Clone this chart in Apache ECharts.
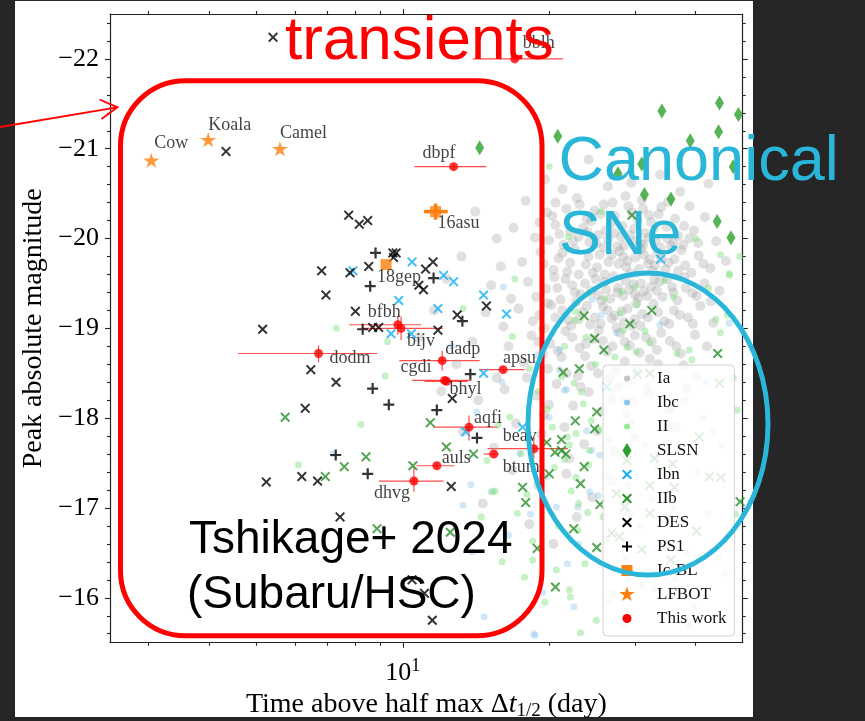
<!DOCTYPE html>
<html><head><meta charset="utf-8">
<script src="https://cdn.jsdelivr.net/npm/echarts@6/dist/echarts.min.js"></script>
<style>
html,body{margin:0;padding:0;background:#262626;width:865px;height:721px;overflow:hidden}
#panel{position:absolute;left:15px;top:1px;width:738px;height:716px;background:#fff}
#chart{position:absolute;left:0;top:0;width:865px;height:721px}
</style></head><body><div id="panel"></div><div id="chart"></div>
<script>
// ---------- data ----------
const yMajorTicks = [-22, -21, -20, -19, -18, -17, -16];
const yMinorTicks = [-22.4,-22.2,-21.8,-21.6,-21.4,-21.2,-20.8,-20.6,-20.4,-20.2,-19.8,-19.6,-19.4,-19.2,-18.8,-18.6,-18.4,-18.2,-17.8,-17.6,-17.4,-17.2,-16.8,-16.6,-16.4,-16.2,-15.8,-15.6];
const xMajorTicks = [10];
const xMinorTicks = [3,4,5,6,7,8,9,20,30,40];

const typeIa = [
[24.1,-20.88],[29.5,-20.62],[21.3,-20.55],[33.8,-20.71],[19.6,-20.66],[37.2,-20.52],[26.4,-20.58],[42.5,-20.61],
[22.8,-20.45],[25.9,-20.38],[28.7,-20.47],[31.2,-20.33],[35.1,-20.41],[19.8,-20.29],[23.9,-20.22],[27.3,-20.25],[30.4,-20.21],[33.6,-20.27],[38.9,-20.36],[17.9,-20.42],[41.8,-20.24],[24.8,-20.31],[29.1,-20.36],
[20.6,-20.15],[22.1,-20.08],[23.5,-20.12],[25.2,-20.04],[26.8,-20.17],[28.1,-20.02],[29.9,-20.11],[31.5,-20.06],[33.1,-19.98],[34.9,-20.13],[36.8,-20.03],[39.7,-20.09],[18.7,-20.01],[21.4,-19.93],[24.2,-19.96],[27.6,-19.91],[30.8,-19.95],[35.6,-19.92],[16.9,-20.12],[44.1,-19.97],[26.1,-20.09],[32.4,-20.18],
[19.2,-19.85],[20.9,-19.78],[22.6,-19.88],[23.8,-19.71],[25.4,-19.82],[26.5,-19.74],[27.9,-19.86],[28.8,-19.68],[30.1,-19.79],[31.9,-19.72],[33.4,-19.84],[34.7,-19.66],[36.2,-19.77],[38.1,-19.70],[40.6,-19.81],[17.6,-19.74],[15.9,-19.69],[21.8,-19.63],[24.6,-19.62],[29.4,-19.61],[32.6,-19.64],[37.4,-19.87],[42.9,-19.67],[46.2,-19.75],[25.9,-19.90],[30.9,-19.88],
[18.1,-19.52],[19.7,-19.44],[20.5,-19.57],[22.3,-19.48],[23.2,-19.38],[24.9,-19.55],[26.2,-19.43],[27.1,-19.58],[28.4,-19.36],[29.8,-19.49],[31.3,-19.41],[32.9,-19.54],[34.2,-19.35],[35.8,-19.46],[37.9,-19.57],[39.4,-19.39],[41.7,-19.50],[16.7,-19.33],[21.1,-19.32],[25.6,-19.31],[30.5,-19.34],[36.7,-19.31],[44.8,-19.42],[15.2,-19.48],[27.7,-19.45],[33.7,-19.52],
[17.3,-19.22],[19.1,-19.15],[20.2,-19.26],[21.9,-19.09],[23.4,-19.18],[24.3,-19.04],[25.8,-19.24],[26.9,-19.11],[28.2,-19.19],[29.6,-19.03],[31.1,-19.16],[32.8,-19.27],[34.5,-19.08],[36.1,-19.20],[38.6,-19.12],[40.9,-19.25],[43.5,-19.06],[16.1,-19.02],[22.7,-19.29],[27.5,-19.01],[30.2,-19.28],[14.8,-19.18],
[18.4,-18.92],[20.1,-18.83],[21.6,-18.97],[23.1,-18.78],[24.7,-18.88],[26.3,-18.74],[28.0,-18.95],[29.3,-18.81],[31.6,-18.90],[33.3,-18.76],[35.4,-18.86],[37.3,-18.72],[39.9,-18.93],[16.5,-18.80],[19.4,-18.71],[25.3,-18.98],[30.7,-18.73],[13.9,-18.85],[42.2,-18.80],
[17.7,-18.62],[19.9,-18.55],[21.2,-18.68],[22.9,-18.47],[24.4,-18.58],[26.6,-18.44],[28.6,-18.63],[30.3,-18.52],[32.2,-18.66],[34.8,-18.49],[37.8,-18.59],[15.6,-18.45],[23.7,-18.69],[27.4,-18.53],[12.9,-18.60],[40.3,-18.46],
[16.2,-18.32],[18.8,-18.25],[20.7,-18.38],[22.4,-18.14],[24.1,-18.29],[25.7,-18.08],[27.8,-18.35],[29.7,-18.18],[32.1,-18.27],[35.2,-18.10],[14.3,-18.20],[19.5,-18.03],[38.4,-18.33],[26.9,-18.20],
[17.1,-17.94],[19.3,-17.82],[21.5,-17.90],[23.6,-17.71],[25.1,-17.86],[27.2,-17.63],[30.0,-17.78],[33.0,-17.58],[15.4,-17.67],[13.3,-17.85],[22.0,-17.55],[36.4,-17.90],
[16.8,-17.42],[19.0,-17.25],[21.7,-17.38],[24.5,-17.12],[27.0,-17.30],[14.6,-17.05],[18.2,-16.82],[22.8,-16.90],[29.2,-16.95],[20.4,-16.60],
[15.6,-20.00],[12.3,-19.55],[11.6,-19.20],[13.2,-19.80],[10.8,-18.90],[12.0,-18.30],[20.6,-20.40],[14.1,-20.30],
[20.3,-20.25],[21.7,-20.33],[23.1,-20.38],[24.4,-20.19],[25.5,-20.27],[27.0,-20.40],[28.3,-20.14],[29.6,-20.29],[31.0,-20.43],[32.1,-20.26],[34.0,-20.35],[36.3,-20.22],[37.9,-20.14],[19.1,-20.18],
[20.0,-19.98],[21.0,-20.05],[22.4,-19.97],[23.0,-20.02],[24.0,-20.07],[25.0,-19.94],[26.4,-19.99],[27.2,-20.06],[28.5,-19.92],[29.3,-20.04],[30.0,-19.97],[31.2,-19.93],[32.0,-20.01],[33.9,-19.90],[35.0,-20.00],[36.0,-19.95],[37.7,-19.93],[38.8,-20.00],[40.5,-19.95],
[19.5,-19.72],[20.4,-19.65],[21.3,-19.84],[22.1,-19.73],[23.0,-19.60],[24.1,-19.80],[25.1,-19.68],[26.0,-19.60],[26.9,-19.82],[27.8,-19.72],[28.4,-19.80],[29.0,-19.75],[30.6,-19.66],[31.3,-19.82],[32.2,-19.77],[33.0,-19.70],[34.0,-19.78],[35.2,-19.73],[36.8,-19.64],[39.2,-19.62],[41.5,-19.72],
[18.8,-19.35],[19.9,-19.28],[20.8,-19.45],[21.6,-19.55],[22.6,-19.40],[23.7,-19.50],[24.4,-19.42],[25.2,-19.37],[26.0,-19.52],[26.7,-19.33],[27.6,-19.40],[28.7,-19.53],[29.2,-19.43],[30.0,-19.38],[30.9,-19.50],[31.8,-19.36],[32.4,-19.46],[33.3,-19.42],[35.0,-19.55],[36.0,-19.40],[38.2,-19.45],[40.2,-19.36],[43.0,-19.30],
[18.5,-19.08],[19.6,-19.00],[20.6,-19.12],[21.3,-19.20],[22.2,-19.03],[23.0,-19.10],[23.9,-19.25],[24.8,-19.12],[25.5,-19.05],[26.4,-19.20],[27.3,-19.14],[28.5,-19.07],[29.0,-19.22],[30.0,-19.10],[30.8,-19.03],[31.9,-19.12],[33.5,-19.18],[35.3,-19.05],[37.1,-19.15],[39.5,-19.05],
[19.0,-18.85],[20.8,-18.75],[22.3,-18.90],[23.8,-18.83],[25.8,-18.86],[27.0,-18.80],[28.6,-18.85],[30.0,-18.92],[32.5,-18.85],[34.0,-18.95],[36.5,-18.80],
[18.0,-18.45],[21.7,-18.50],[25.2,-18.50],[29.2,-18.42],[33.5,-18.60],[20.0,-18.15],[23.2,-18.35],[28.7,-18.05]
];

const typeIbc = [
[16.1,-19.46],[24.5,-19.32],[25.6,-19.15],[33.8,-19.04],[46.9,-19.06],[21.0,-18.76],[21.5,-18.31],[23.9,-17.86],[25.4,-17.59],[21.0,-18.54],
[20.0,-18.01],[24.2,-17.18],[25.2,-17.14],[20.7,-17.01],[18.3,-16.93],[24.5,-17.64],[18.6,-15.60],[13.8,-17.26],[15.2,-17.18],[13.9,-16.51],
[14.7,-15.79],[18.7,-15.58],[22.5,-15.90],[22.9,-17.01],[21.8,-16.38],[19.4,-16.06],[13.3,-17.03],[21.7,-18.32],[14.2,-18.07],[17.4,-17.61],
[7.2,-17.60],[28.3,-18.20],[31.5,-17.70],[36.0,-17.00],[42.0,-18.40],[38.5,-16.50],[29.0,-16.20],[26.5,-15.95],[33.0,-16.10],[16.5,-16.70],
[19.8,-17.35],[27.5,-18.95],[30.2,-19.60],[18.9,-18.70],[23.0,-16.60],[35.5,-18.10],[45.0,-17.70],[16.0,-18.40],[12.6,-18.80]
];

const typeII = [
[20.0,-20.80],[21.9,-20.02],[47.0,-19.59],[26.0,-19.33],[34.5,-19.53],[30.0,-19.46],[28.0,-19.17],[30.3,-19.26],[22.6,-19.09],[31.5,-18.97],
[38.8,-18.76],[28.9,-18.79],[16.8,-18.91],[49.3,-19.80],[45.0,-18.95],[28.2,-19.41],[32.2,-18.84],[36.6,-18.72],[39.3,-18.65],[44.0,-19.10],
[46.5,-19.15],[46.9,-19.61],[45.0,-19.82],[24.1,-19.39],[22.6,-19.19],[27.3,-18.68],[28.4,-18.98],[30.2,-18.74],[21.5,-18.80],[22.5,-18.39],
[23.5,-18.16],[22.7,-17.83],[21.5,-17.54],[24.2,-17.64],[25.3,-17.87],[22.0,-17.70],[24.1,-17.48],[16.6,-18.01],[15.5,-17.19],[17.2,-16.94],
[18.5,-16.63],[22.9,-16.75],[26.2,-16.64],[23.7,-16.38],[20.7,-16.31],[22.1,-16.01],[23.2,-15.61],[28.5,-15.68],[38.8,-15.68],[48.3,-16.93],
[48.7,-18.09],[41.5,-18.00],[37.6,-16.86],[39.7,-15.90],[46.0,-16.27],[20.3,-17.90],[21.8,-17.79],[23.3,-18.29],[24.4,-17.97],[22.2,-17.19],
[26.3,-17.36],[41.2,-16.47],[36.2,-16.21],[34.5,-16.63],[15.3,-17.18],[17.8,-16.23],[22.0,-16.09],[18.5,-16.42],[6.1,-17.48],[22.7,-17.34],
[7.3,-19.00],[9.3,-18.85],[9.2,-18.47],[8.2,-17.93],[13.3,-19.22],[21.2,-18.46],[15.7,-17.92],[14.9,-17.53],[19.0,-18.30],[20.5,-17.45],
[23.0,-17.05],[25.8,-16.90],[27.8,-17.60],[29.5,-17.95],[31.8,-18.35],[33.5,-17.45],[35.2,-17.90],[38.0,-18.20],[40.5,-17.40],[43.5,-17.85],
[30.8,-16.80],[27.0,-16.05],[33.8,-15.80],[25.0,-15.75],[19.6,-15.95],[17.5,-17.60],[18.2,-18.55],[24.9,-18.60],[26.8,-18.30],[29.1,-17.25],
[32.5,-17.10],[36.9,-17.65],[42.3,-16.95],[44.6,-16.45],[19.3,-19.00],[17.0,-19.55],[25.6,-20.30],[33.0,-20.10],[40.0,-20.00],[36.0,-19.35],
[42.5,-19.45],[47.8,-18.45],[20.9,-16.80],[24.0,-16.95],[28.7,-16.45],[31.2,-16.15],[35.0,-16.90],[26.6,-17.75],[23.8,-18.90],[19.8,-18.10],
[18.0,-17.15],[16.0,-16.40],[14.5,-16.90]
];

const typeSLSN = [
[14.39,-21.01],[20.83,-21.14],[44.8,-21.51],[34.1,-21.42],[49.0,-21.38],[44.6,-21.19],[39.0,-21.09],
[31.0,-20.83],[27.7,-20.72],[47.8,-20.80],[31.4,-20.49],[35.6,-20.44],[44.3,-20.19],[47.3,-20.01]
];

const typeIbn = [
[7.90,-19.64],[10.45,-19.74],[12.13,-19.59],[12.72,-19.52],[9.81,-19.31],[11.81,-19.22],[14.66,-19.37],[16.34,-19.16],
[9.46,-18.94],[10.41,-18.94],[14.66,-18.50],[13.47,-17.85],[17.63,-17.90],[33.9,-19.77],[26.3,-18.35]
];

const typeIIb = [
[5.73,-18.01],[8.40,-17.57],[7.58,-17.46],[6.93,-17.35],[11.39,-17.95],[12.29,-17.68],[13.98,-17.60],[10.49,-17.47],
[21.37,-18.51],[22.63,-17.97],[21.2,-17.76],[19.77,-17.73],[20.0,-17.38],[20.55,-17.62],[21.2,-17.64],[21.65,-17.60],
[8.85,-16.77],[12.52,-16.73],[17.63,-17.23],[17.89,-17.06],[18.90,-16.55],[20.60,-16.12],[22.46,-16.77],[23.07,-18.55],
[25.9,-18.76],[44.4,-18.72],[25.05,-18.07],[24.8,-17.88],[23.6,-17.46],[23.2,-17.27],[25.44,-17.04],[25.05,-16.56],
[29.6,-20.26],[23.6,-19.14],[32.5,-19.20],[29.3,-19.05],[24.8,-18.89],[49.4,-17.07],
[30.4,-18.49],[32.2,-18.50],[44.8,-18.39],[40.7,-17.79],[32.9,-17.55],[35.9,-17.49],[32.2,-17.25],[36.2,-17.23],
[42.7,-17.35],[45.1,-17.34],[27.5,-17.16],[26.9,-16.72],[27.9,-16.68],[31.0,-16.54],[40.2,-16.74],[35.6,-16.42],
[32.2,-16.94],[28.6,-17.01],[28.9,-17.53]
];

const typeDES = [
[4.33,-20.97],[5.41,-22.24],[7.74,-20.26],[8.14,-20.16],[8.47,-20.20],[9.54,-19.84],[9.69,-19.84],[9.57,-19.79],
[6.81,-19.64],[7.79,-19.62],[8.51,-19.69],[6.95,-19.37],[7.99,-19.19],[5.15,-18.99],[8.67,-19.01],[8.92,-19.01],
[6.47,-18.54],[7.29,-18.40],[6.30,-18.11],[11.14,-19.66],[11.54,-19.74],[10.79,-19.48],[11.03,-19.43],[14.86,-19.25],
[12.94,-19.15],[11.81,-18.98],[12.64,-18.22],[6.20,-17.35],[6.68,-17.30],[12.58,-17.24],[7.43,-16.90],[10.45,-16.20],
[11.08,-16.05],[11.50,-15.75],[5.24,-17.29]
];

const typePS1 = [
[8.79,-19.84],[8.57,-19.47],[8.27,-18.99],[8.67,-18.33],[9.36,-18.15],[7.28,-17.59],
[11.57,-19.56],[13.26,-19.08],[13.77,-18.49],[11.75,-18.09],[14.21,-17.78],[8.47,-17.38]
];

const icblNames = ['16asu', '18gep'];
const icblX = [11.68, 9.24];
const icblY = [-20.30, -19.71];
const icblXLo = [11.05, 9.24];
const icblXHi = [12.37, 9.24];
const icblYLo = [-20.39, -19.71];
const icblYHi = [-20.21, -19.71];

const lfbotNames = ['Cow', 'Koala', 'Camel'];
const lfbotX = [3.04, 3.98, 5.59];
const lfbotY = [-20.87, -21.10, -21.00];

const workNames = ['bblh','dbpf','bfbh','bijv','dodm','dadp','cgdi','bhyl','apsu','aqfi','beav','btum','auls','dhvg'];
const workX   = [16.99, 12.72, 9.77, 9.92, 6.71, 12.05, 12.19, 12.30, 16.08, 13.68, 18.6, 15.38, 11.75, 10.54];
const workY   = [-22.00,-20.80,-19.04,-19.00,-18.72,-18.64,-18.42,-18.41,-18.54,-17.90,-17.66,-17.60,-17.47,-17.30];
const workXLo = [13.92, 10.57, 7.76, 8.26, 4.59, 9.84, 10.45, 11.08, 14.39, 11.57, 14.94, 14.66, 10.66, 8.93];
const workXHi = [21.35, 14.86, 10.91, 12.07, 8.86, 14.39, 13.84, 13.60, 17.80, 15.68, 21.85, 15.76, 12.78, 12.13];
const workYLo = [-22.03,-20.83,-19.14,-19.13,-18.81,-18.75,-18.45,-18.44,-18.57,-18.03,-17.79,-17.63,-17.50,-17.46];
const workYHi = [-21.97,-20.77,-18.93,-18.87,-18.62,-18.53,-18.39,-18.38,-18.51,-17.75,-17.55,-17.57,-17.44,-17.18];

// ---------- styles ----------
const SERIF = 'Liberation Serif';
const labelOffsets = {Cow:[3,-17], Koala:[0,-14], Camel:[0,-15], '16asu':[2,12], '18gep':[-9,13],
  bblh:[8,-16], dbpf:[-31,-13], bfbh:[-30,-12], bijv:[6,13], dodm:[11,5], dadp:[3,-11], cgdi:[-44,-13],
  bhyl:[3,8], apsu:[0,-11], aqfi:[5,-9], beav:[-31,-12], btum:[9,13], auls:[5,-8], dhvg:[-40,12]};

const P_X = 'path://M0,1.4L1.4,0L5,3.6L8.6,0L10,1.4L6.4,5L10,8.6L8.6,10L5,6.4L1.4,10L0,8.6L3.6,5Z';
const P_PLUS = 'path://M4,0H6V4H10V6H6V10H4V6H0V4H4Z';
const P_STAR = 'path://M50,0L61.2,34.5L97.6,34.5L68.2,55.9L79.4,90.5L50,69.1L20.6,90.5L31.8,55.9L2.4,34.5L38.8,34.5Z';

const F = 'M0,0M44,17';
const L_DOT = 'path://' + F + 'M16,8.5A3,3,0,1,1,22,8.5A3,3,0,1,1,16,8.5Z';
const L_DIAM = 'path://' + F + 'M19,1L23.5,8.5L19,16L14.5,8.5Z';
const L_X = 'path://' + F + 'M14,4.9L15.4,3.5L19,7.1L22.6,3.5L24,4.9L20.4,8.5L24,12.1L22.6,13.5L19,9.9L15.4,13.5L14,12.1L17.6,8.5Z';
const L_PLUS = 'path://' + F + 'M18,3.5H20V7.5H24V9.5H20V13.5H18V9.5H14V7.5H18Z';
const L_SQ = 'path://' + F + 'M13.5,3L24.5,3L24.5,14L13.5,14Z';
const L_STAR = 'path://' + F + 'M19,0.5L20.88,5.91L26.61,6.03L22.04,9.49L23.7,14.97L19,11.7L14.3,14.97L15.96,9.49L11.39,6.03L17.12,5.91Z';
const L_CIRC = 'path://' + F + 'M14.5,8.5A4.5,4.5,0,1,1,23.5,8.5A4.5,4.5,0,1,1,14.5,8.5Z';

function labeled(names, xs, ys) {
  return names.map((n, i) => {
    const o = labelOffsets[n] || [0, 0];
    return {name: n, value: [xs[i], ys[i]],
      label: {show: true, position: 'inside', align: 'left', verticalAlign: 'middle', offset: o,
        formatter: '{b}', fontFamily: SERIF, fontSize: 18, color: '#111'}};
  });
}

function errRender(color, width) {
  return function (params, api) {
    const x = api.value(0), y = api.value(1);
    const a = api.coord([api.value(2), y]), b = api.coord([api.value(3), y]);
    const c = api.coord([x, api.value(4)]), d = api.coord([x, api.value(5)]);
    return {type: 'group', children: [
      {type: 'line', shape: {x1: a[0], y1: a[1], x2: b[0], y2: b[1]}, style: {stroke: color, lineWidth: width}},
      {type: 'line', shape: {x1: c[0], y1: c[1], x2: d[0], y2: d[1]}, style: {stroke: color, lineWidth: width}}
    ]};
  };
}

const workErr = workNames.map((n, i) => [workX[i], workY[i], workXLo[i], workXHi[i], workYLo[i], workYHi[i]]);
const icblErr = icblNames.map((n, i) => [icblX[i], icblY[i], icblXLo[i], icblXHi[i], icblYLo[i], icblYHi[i]]);

const AX = '#222';
function xAx(pos, ticks, len, showLine, showLabel) {
  return {type: 'log', logBase: 10, min: 2.5, max: 50, position: pos, gridIndex: 0,
    axisLine: {show: showLine, lineStyle: {color: AX, width: 1.2}},
    axisTick: {show: true, inside: false, length: len, customValues: ticks, lineStyle: {color: AX, width: 1.1}},
    axisLabel: {show: showLabel, customValues: ticks, margin: 15,
      formatter: v => '{b|10}{s|1}',
      rich: {b: {fontFamily: SERIF, fontSize: 26, color: '#000', lineHeight: 30},
             s: {fontFamily: SERIF, fontSize: 18, color: '#000', verticalAlign: 'top', lineHeight: 30}}},
    splitLine: {show: false}, minorTick: {show: false}};
}
function yAx(pos, ticks, len, showLine, showLabel) {
  return {type: 'value', inverse: true, min: -22.5, max: -15.5, position: pos, gridIndex: 0,
    axisLine: {show: showLine, lineStyle: {color: AX, width: 1.2}},
    axisTick: {show: true, inside: false, length: len, customValues: ticks, lineStyle: {color: AX, width: 1.1}},
    axisLabel: {show: showLabel, customValues: ticks, margin: 11, fontFamily: SERIF, fontSize: 26, color: '#000',
      formatter: v => '\u2212' + Math.abs(v)},
    splitLine: {show: false}};
}

const xAxes = [xAx('bottom', xMajorTicks, 5, true, true), xAx('bottom', xMinorTicks, 3, false, false),
               xAx('top', xMajorTicks, 5, true, false), xAx('top', xMinorTicks, 3, false, false)];
xAxes[0].name = '{n|Time above half max \u0394}{i|t}{s|1/2}{n| (day)}';
xAxes[0].nameLocation = 'middle';
xAxes[0].nameGap = 33;
xAxes[0].nameTextStyle = {rich: {
  n: {fontFamily: SERIF, fontSize: 28, color: '#000', lineHeight: 32},
  i: {fontFamily: SERIF, fontSize: 28, fontStyle: 'italic', color: '#000', lineHeight: 32},
  s: {fontFamily: SERIF, fontSize: 19, color: '#000', verticalAlign: 'bottom', lineHeight: 32}}};

const yAxes = [yAx('left', yMajorTicks, 5, true, true), yAx('left', yMinorTicks, 3, false, false),
               yAx('right', yMajorTicks, 5, true, false), yAx('right', yMinorTicks, 3, false, false)];
yAxes[0].name = 'Peak absolute magnitude';
yAxes[0].nameLocation = 'middle';
yAxes[0].nameGap = 59;
yAxes[0].nameTextStyle = {fontFamily: SERIF, fontSize: 28, color: '#000'};

function sc(name, data, symbol, size, color, extra) {
  return Object.assign({type: 'scatter', name: name, data: data, symbol: symbol, symbolSize: size,
    xAxisIndex: 0, yAxisIndex: 0, itemStyle: {color: color}, emphasis: {disabled: true}, silent: true}, extra || {});
}

const RED = '#ff0000', ORANGE = '#ff7f0e', BLUE = '#29b6d9';

const option = {
  animation: false,
  backgroundColor: 'transparent',
  grid: {left: 110, top: 14, right: 122.3, bottom: 78.3, containLabel: false, outerBoundsMode: 'none'},
  xAxis: xAxes,
  yAxis: yAxes,
  legend: {
    orient: 'vertical', left: 603, top: 365, padding: [5, 8, 9, 5], itemGap: 7, itemWidth: 44, itemHeight: 17,
    backgroundColor: 'rgba(255,255,255,0.82)', borderColor: '#d0d0d0', borderWidth: 1, borderRadius: 4,
    textStyle: {fontFamily: SERIF, fontSize: 17, color: '#111', lineHeight: 17},
    symbolRotate: 0, selectedMode: false,
    data: [
      {name: 'Ia', icon: L_DOT, itemStyle: {color: '#c4c4c4', opacity: 1}},
      {name: 'Ibc', icon: L_DOT, itemStyle: {color: '#8cc6ec', opacity: 1}},
      {name: 'II', icon: L_DOT, itemStyle: {color: '#90ee90', opacity: 1}},
      {name: 'SLSN', icon: L_DIAM, itemStyle: {color: '#2ca02c', opacity: 1}},
      {name: 'Ibn', icon: L_X, itemStyle: {color: '#16b0f2', opacity: 1}},
      {name: 'IIb', icon: L_X, itemStyle: {color: '#2a8f2a', opacity: 1}},
      {name: 'DES', icon: L_X, itemStyle: {color: '#000', opacity: 1}},
      {name: 'PS1', icon: L_PLUS, itemStyle: {color: '#000', opacity: 1}},
      {name: 'Ic-BL', icon: L_SQ, itemStyle: {color: ORANGE, opacity: 1}},
      {name: 'LFBOT', icon: L_STAR, itemStyle: {color: ORANGE, opacity: 1}},
      {name: 'This work', icon: L_CIRC, itemStyle: {color: RED, opacity: 1}}
    ]
  },
  series: [
    sc('Ia', typeIa, 'circle', 10, '#a8a8a8', {itemStyle: {color: '#a0a0a0', opacity: 0.32}}),
    sc('Ibc', typeIbc, 'circle', 7, '#6cb4e4', {itemStyle: {color: '#6cb4e4', opacity: 0.3}}),
    sc('II', typeII, 'circle', 7, '#7ee07e', {itemStyle: {color: '#7ee07e', opacity: 0.45}}),
    sc('SLSN', typeSLSN, 'diamond', [9, 15], '#2ca02c'),
    sc('Ibn', typeIbn, P_X, 10, '#16b0f2'),
    sc('IIb', typeIIb, P_X, 10, '#2a8f2a'),
    sc('DES', typeDES, P_X, 10, '#000'),
    sc('PS1', typePS1, P_PLUS, 11, '#000'),
    {type: 'custom', name: 'Ic-BL err', renderItem: errRender(ORANGE, 3.5), data: icblErr,
      encode: {x: 0, y: 1}, xAxisIndex: 0, yAxisIndex: 0, silent: true},
    sc('Ic-BL', labeled(icblNames, icblX, icblY), 'rect', 11, ORANGE),
    sc('LFBOT', labeled(lfbotNames, lfbotX, lfbotY), P_STAR, [16, 15], ORANGE),
    {type: 'custom', name: 'This work err', renderItem: errRender('rgba(255,0,0,0.7)', 1.2), data: workErr,
      encode: {x: 0, y: 1}, xAxisIndex: 0, yAxisIndex: 0, silent: true},
    sc('This work', labeled(workNames, workX, workY), 'circle', 9, RED)
  ],
  graphic: [
    {type: 'rect', z: 100, shape: {x: 120.5, y: 80.8, width: 421.5, height: 555, r: 65},
      style: {fill: 'none', stroke: RED, lineWidth: 5}},
    {type: 'polyline', z: 100, shape: {points: [[0, 127], [117, 107.3]]}, style: {stroke: RED, lineWidth: 1.8, fill: 'none'}},
    {type: 'polyline', z: 100, shape: {points: [[99.5, 99.5], [117.5, 107.3], [101.5, 119]]}, style: {stroke: RED, lineWidth: 1.8, fill: 'none'}},
    {type: 'ellipse', z: 100, shape: {cx: 648, cy: 424, rx: 120, ry: 151}, style: {fill: 'none', stroke: BLUE, lineWidth: 5}},
    {type: 'text', z: 101, x: 285, y: 41.6, style: {text: 'transients', fill: RED, font: '62px "Liberation Sans"', verticalAlign: 'middle'}},
    {type: 'text', z: 101, x: 558.5, y: 163, style: {text: 'Canonical', fill: BLUE, font: '63px "Liberation Sans"', verticalAlign: 'middle'}},
    {type: 'text', z: 101, x: 559, y: 237, style: {text: 'SNe', fill: BLUE, font: '63px "Liberation Sans"', verticalAlign: 'middle'}},
    {type: 'text', z: 101, x: 189, y: 540.6, style: {text: 'Tshikage+ 2024', fill: '#000', font: '46px "Liberation Sans"', verticalAlign: 'middle'}},
    {type: 'text', z: 101, x: 187, y: 595.6, style: {text: '(Subaru/HSC)', fill: '#000', font: '46px "Liberation Sans"', verticalAlign: 'middle'}}
  ]
};

const chart = echarts.init(document.getElementById('chart'), null, {renderer: 'canvas'});
chart.setOption(option);
</script></body></html>
